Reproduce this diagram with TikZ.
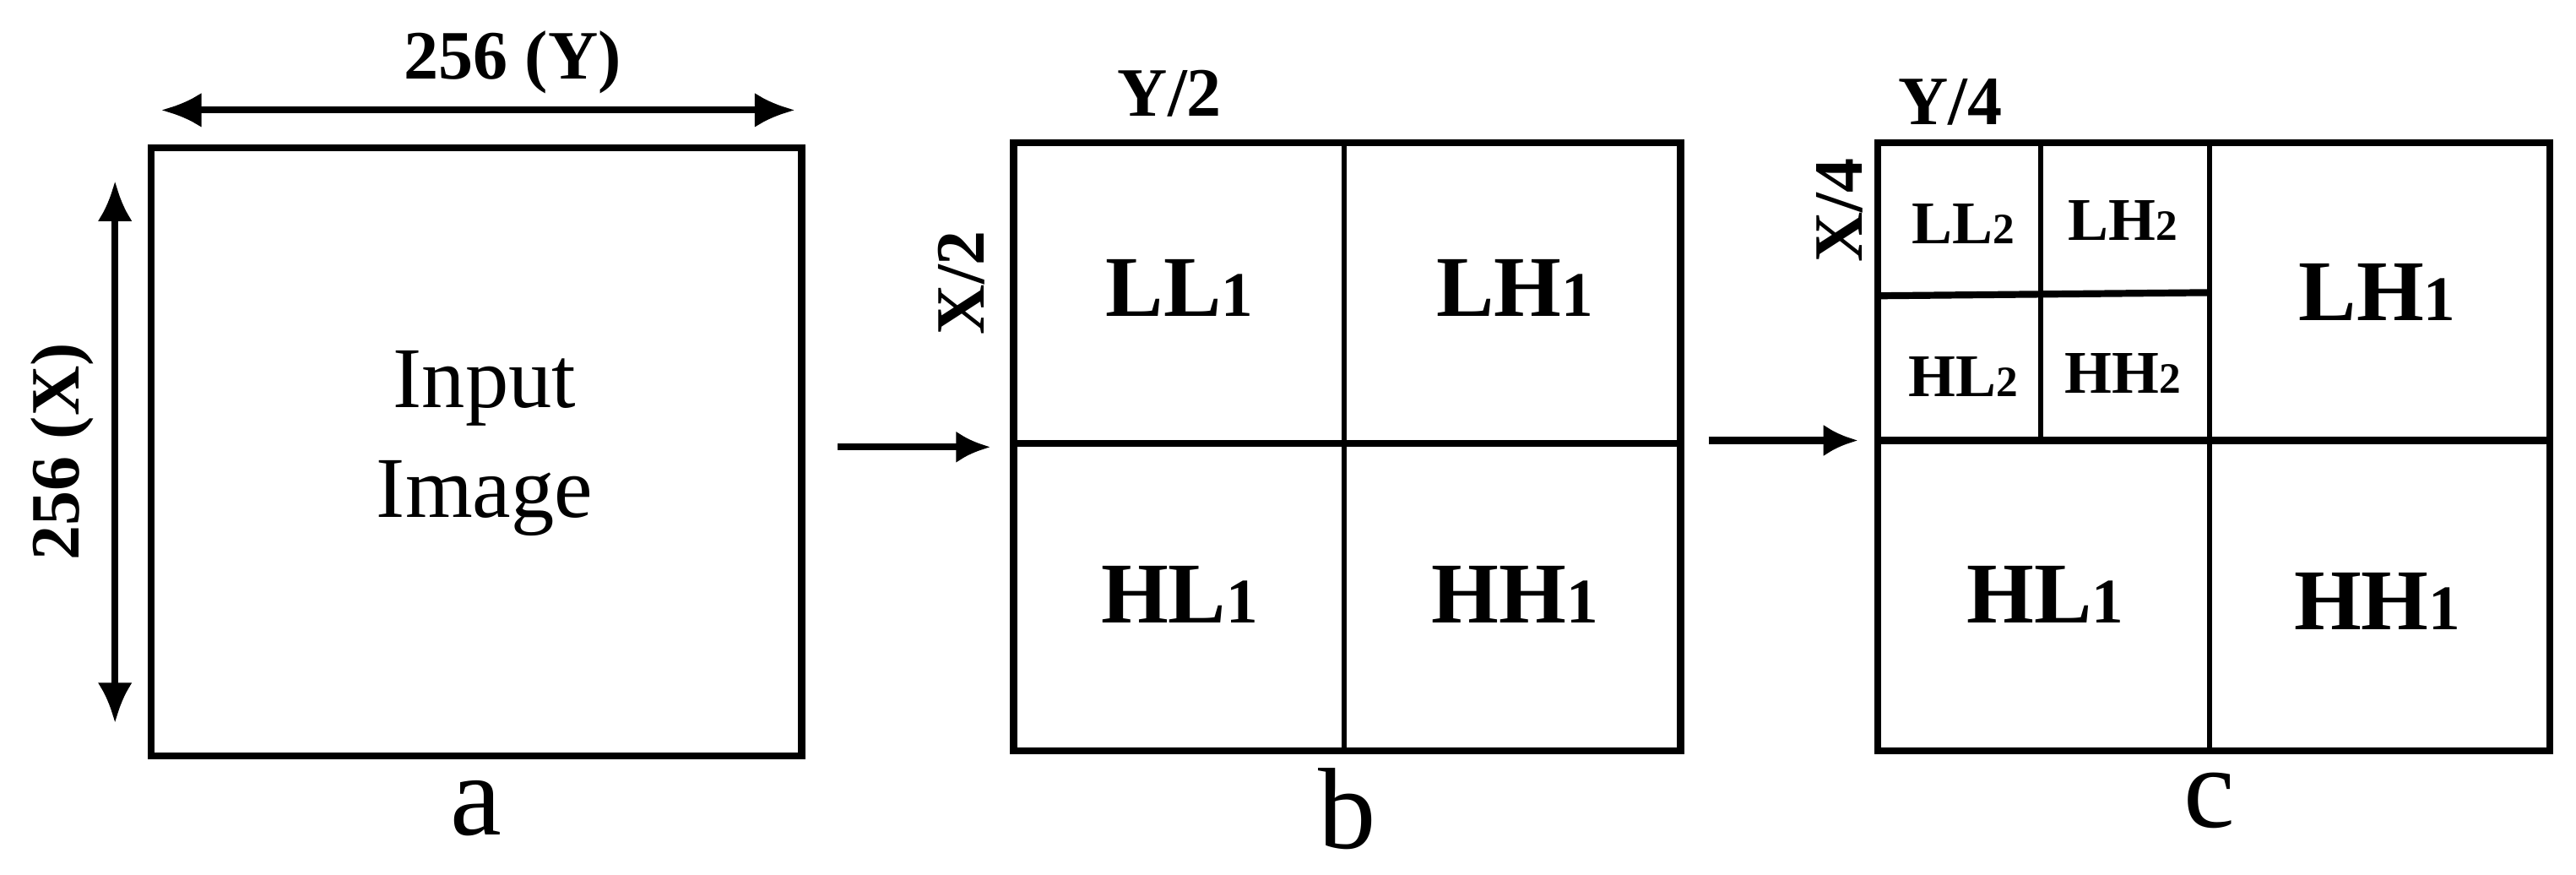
\documentclass[tikz,border=0pt]{standalone}
\usepackage{fontspec}
\setmainfont{Liberation Serif}
\usetikzlibrary{arrows.meta}
\begin{document}
\begin{tikzpicture}[x=0.02cm,y=-0.02cm,
  ln/.style={line width=2.4pt},
  thin/.style={line width=1.8pt},
  arr/.style={line width=2.4pt,-{Latex[length=12pt,width=11pt]}},
  big/.style={font=\bfseries\fontsize{30}{32}\selectfont},
  sml/.style={font=\bfseries\fontsize{21}{23}\selectfont},
  dim/.style={font=\bfseries\fontsize{24}{26}\selectfont},
  captxt/.style={font=\fontsize{40}{42}\selectfont}]
\useasboundingbox (0,0) rectangle (1568,532);
% a
\draw[ln] (92,90) rectangle (488,460);
\coordinate (ya) at (98,67); \coordinate (yb) at (484,67);
\coordinate (xa) at (70,110); \coordinate (xb) at (70,440);
\draw[line width=2.4pt,{Latex[length=14pt,width=12pt]}-{Latex[length=14pt,width=12pt]}] (ya) -- (yb);
\draw[line width=2.4pt,{Latex[length=14pt,width=12pt]}-{Latex[length=14pt,width=12pt]}] (xa) -- (xb);
\node[dim] (ty) at (312,38) {256 (Y)};
\node[dim,rotate=90] (tx) at (38,275) {256 (X)};
\node[font=\fontsize{30}{38}\selectfont,align=center] (inp) at (295,270) {Input\\Image};
\node[captxt] (la) at (290,492) {a};
% arrow 1
\coordinate (a1s) at (510,272); \coordinate (a1e) at (603,272);
\draw[arr] (a1s) -- (a1e);
% b
\draw[ln] (617,87) rectangle (1023,457);
\draw[thin] (818,87) -- (818,457);
\draw[ln] (617,270) -- (1023,270);
\node[big] (b1) at (718,175) {LL\fontsize{22}{24}\selectfont1};
\node[big] (b2) at (922,175) {LH\fontsize{22}{24}\selectfont1};
\node[big] (b3) at (718,362) {HL\fontsize{22}{24}\selectfont1};
\node[big] (b4) at (922,362) {HH\fontsize{22}{24}\selectfont1};
\node[dim] (by) at (712,57) {Y/2};
\node[dim,rotate=90] (bx) at (585,172) {X/2};
\node[captxt] (lb) at (820,492) {b};
% arrow 2
\coordinate (a2s) at (1040,268); \coordinate (a2e) at (1131,268);
\draw[arr] (a2s) -- (a2e);
% c
\draw[ln] (1143,87) rectangle (1552,457);
\draw[thin] (1345,87) -- (1345,457);
\draw[ln] (1143,268) -- (1552,268);
\draw[thin] (1242,87) -- (1242,268);
\draw[ln] (1143,180) -- (1345,178);
\node[sml] (c1) at (1195,136) {LL\fontsize{15}{17}\selectfont2};
\node[sml] (c2) at (1292,134) {LH\fontsize{15}{17}\selectfont2};
\node[sml] (c3) at (1195,229) {HL\fontsize{15}{17}\selectfont2};
\node[sml] (c4) at (1292,227) {HH\fontsize{15}{17}\selectfont2};
\node[big] (c5) at (1447,178) {LH\fontsize{22}{24}\selectfont1};
\node[big] (c6) at (1245,362) {HL\fontsize{22}{24}\selectfont1};
\node[big] (c7) at (1447,366) {HH\fontsize{22}{24}\selectfont1};
\node[dim] (cy) at (1187,62) {Y/4};
\node[dim,rotate=90] (cx) at (1120,128) {X/4};
\node[captxt] (lc) at (1345,487) {c};
\end{tikzpicture}
\end{document}
